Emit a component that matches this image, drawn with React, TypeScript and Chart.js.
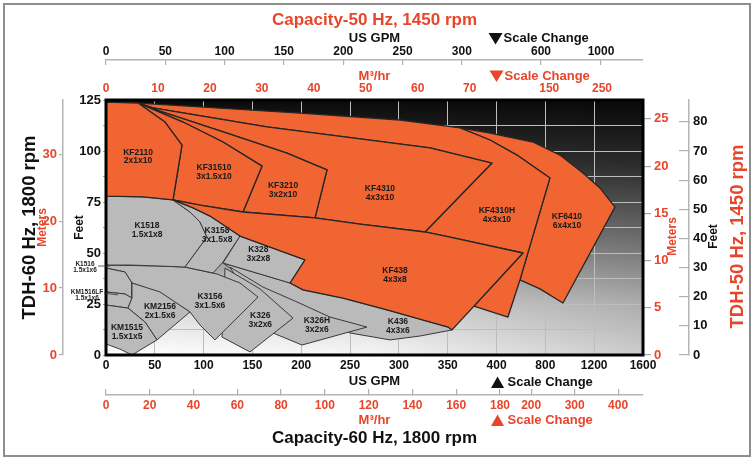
import React, { useEffect, useRef } from 'react';
import { Chart, registerables, LinearScale } from 'chart.js';

// ---------------- tick labels ----------------
const GPM_60HZ = [0, 50, 100, 150, 200, 250, 300, 350, 400, 800, 1200, 1600];
const GPM_50HZ = [0, 50, 100, 150, 200, 250, 300, 600, 1000];
const M3H_50HZ = [0, 10, 20, 30, 40, 50, 60, 70, 150, 250];
const M3H_60HZ = [0, 20, 40, 60, 80, 100, 120, 140, 160, 180, 200, 300, 400];
const FEET_60HZ = [0, 25, 50, 75, 100, 125];
const FEET_60HZ_GRID = [0, 12.5, 25, 37.5, 50, 62.5, 75, 87.5, 100, 112.5, 125];
const METERS_60HZ = [0, 10, 20, 30];
const METERS_50HZ = [0, 5, 10, 15, 20, 25];
const FEET_50HZ = [0, 10, 20, 30, 40, 50, 60, 70, 80];

// ---------------- coverage areas: [US GPM @60Hz, feet TDH @60Hz] ----------------
const K436 = [[119.8, 45.1], [188.5, 35.3], [201.8, 31.9], [242.7, 27.9], [287.8, 22.1], [350.3, 13.7], [354.4, 12.3], [321.6, 9.3], [290.9, 7.4], [249.9, 10.8], [198.7, 22.1], [137.2, 39.2]];
const K326H = [[127.0, 43.1], [160.8, 33.3], [195.6, 26.0], [229.4, 18.6], [267.3, 13.7], [200.7, 4.9], [171.0, 10.8], [147.5, 27.0]];
const K326 = [[121.9, 42.6], [157.7, 32.4], [191.5, 18.1], [147.5, 1.5], [118.8, 8.8]];
const K328 = [[137.2, 58.3], [168.0, 52.9], [203.8, 46.6], [188.5, 35.3], [119.8, 45.1]];
const K3156 = [[0, 44.1], [55.3, 43.6], [80.9, 43.1], [113.7, 39.7], [137.2, 35.3], [155.7, 28.4], [111.6, 7.4], [96.3, 14.7], [86.0, 21.1], [55.3, 30.4], [26.6, 35.3], [19.5, 40.7], [0, 42.6]];
const K1518 = [[0, 77.9], [37.9, 77.5], [68.6, 76.0], [86.0, 70.1], [96.3, 65.2], [103.4, 57.8], [80.9, 43.1], [55.3, 43.6], [24.6, 44.1], [0, 44.1]];
const K3158 = [[68.6, 76.0], [89.1, 72.1], [106.5, 68.1], [121.9, 63.2], [137.2, 58.3], [119.8, 45.6], [109.6, 40.2], [80.9, 43.1], [103.4, 57.8], [96.3, 65.2], [86.0, 70.1]];
const K1516 = [[0, 42.6], [19.5, 40.7], [26.6, 35.3], [26.6, 27.9], [19.5, 29.9], [0, 30.9]];
const KM1516LF = [[0, 30.9], [19.5, 29.9], [26.6, 27.9], [22.5, 23.0], [0, 24.5]];
const KM2156 = [[26.6, 35.3], [55.3, 30.9], [86.0, 21.1], [52.2, 7.4], [39.9, 16.2], [22.5, 23.0], [26.6, 27.9]];
const KM1515 = [[0, 24.5], [22.5, 23.0], [39.9, 16.2], [52.2, 7.4], [26.6, 0], [14.3, 2.9], [0, 5.4]];

const KF6410 = [[362.6, 111.3], [393.3, 108.8], [698.2, 104.4], [919.4, 98.0], [1107.9, 89.2], [1247.2, 81.9], [1370.0, 72.5], [944.0, 25.5], [755.6, 32.4], [591.7, 36.8], [837.5, 86.8], [567.1, 98.0], [393.3, 105.4]];
const KF4310H = [[32.8, 123.5], [96.3, 121.6], [198.7, 118.6], [301.1, 115.2], [362.6, 111.3], [393.3, 105.4], [567.1, 98.0], [837.5, 86.8], [591.7, 36.8], [493.4, 18.6], [376.9, 24.0], [616.3, 50.0], [352.3, 57.8], [326.7, 60.3], [395.3, 94.1], [331.8, 101.5], [164.9, 111.8], [48.1, 121.1]];
const KF4310 = [[32.8, 123.5], [48.1, 121.1], [164.9, 111.8], [331.8, 101.5], [395.3, 94.1], [326.7, 60.3], [260.1, 64.2], [214.1, 67.2], [226.3, 90.7], [185.4, 99.0], [130.1, 107.8], [55.3, 119.6]];
const KF3210 = [[32.8, 123.5], [55.3, 119.6], [130.1, 107.8], [185.4, 99.0], [226.3, 90.7], [214.1, 67.2], [140.3, 70.1], [159.8, 92.6], [119.8, 104.4], [78.9, 114.2], [42.0, 121.6]];
const KF31510 = [[32.8, 123.5], [42.0, 121.6], [78.9, 114.2], [119.8, 104.4], [159.8, 92.6], [140.3, 70.1], [96.3, 73.5], [68.6, 76.0], [77.8, 102.9], [60.4, 114.2]];
const KF2110 = [[0, 124.0], [32.8, 123.5], [60.4, 114.2], [77.8, 102.9], [68.6, 76.0], [37.9, 77.5], [0, 77.9]];
const KF438 = [[68.6, 76.0], [96.3, 73.5], [140.3, 70.1], [214.1, 67.2], [260.1, 64.2], [326.7, 60.3], [352.3, 57.8], [616.3, 50.0], [354.4, 12.3], [350.3, 13.7], [287.8, 22.1], [242.7, 27.9], [201.8, 31.9], [188.5, 35.3], [203.8, 46.6], [168.0, 52.9], [137.2, 58.3], [121.9, 63.2], [106.5, 68.1], [89.1, 72.1]];

// model, size, family, area, label anchor [gpm, ft]  (listed back to front)
const PUMPS: [string, string, string, number[][], number[] | null][] = [
  ['K436', '4x3x6', 'K', K436, [299, 14.2]],
  ['K326H', '3x2x6', 'K', K326H, [216, 14.7]],
  ['K326', '3x2x6', 'K', K326, [158, 17.2]],
  ['K328', '3x2x8', 'K', K328, [156, 49.5]],
  ['K3156', '3x1.5x6', 'K', K3156, [106.5, 26.5]],
  ['K1518', '1.5x1x8', 'K', K1518, [42, 61.3]],
  ['K3158', '3x1.5x8', 'K', K3158, [113.7, 58.8]],
  ['K1516', '1.5x1x6', 'K', K1516, null],
  ['KM1516LF', '1.5x1x6', 'K', KM1516LF, null],
  ['KM2156', '2x1.5x6', 'K', KM2156, [55.3, 21.6]],
  ['KM1515', '1.5x1x5', 'K', KM1515, [21.5, 11.3]],
  ['KF6410', '6x4x10', 'KF', KF6410, [977, 65.7]],
  ['KF4310H', '4x3x10', 'KF', KF4310H, [403, 68.6]],
  ['KF4310', '4x3x10', 'KF', KF4310, [280.6, 79.4]],
  ['KF3210', '3x2x10', 'KF', KF3210, [181.3, 80.9]],
  ['KF31510', '3x1.5x10', 'KF', KF31510, [110.6, 89.7]],
  ['KF2110', '2x1x10', 'KF', KF2110, [32.8, 97.3]],
  ['KF438', '4x3x8', 'KF', KF438, [296, 39.2]],
];
// small areas labelled outside the plot: model, size, label ft, leader ft
const SIDE_LABELS: [string, string, number, number][] = [
  ['K1516', '1.5x1x6', 44.6, 43.6],
  ['KM1516LF', '1.5x1x6', 30.9, 30.4],
];

// ---------------- scale-change axes (value breakpoints vs. 11 equal divisions) ----------------
const DIVS = 11;
const AXIS_BREAKS: Record<string, { values: number[]; divs: number[]; ticks: number[] }> = {
  x: { values: [0, 400, 1600], divs: [0, 8, 11], ticks: GPM_60HZ },
  xTopGpm: { values: [0, 300, 600, 1000], divs: [0, 7.29, 8.91, 10.14], ticks: GPM_50HZ },
  xTopM3: { values: [0, 70, 150, 250], divs: [0, 7.45, 9.08, 10.16], ticks: M3H_50HZ },
  xBotM3: { values: [0, 180, 200, 400], divs: [0, 8.07, 8.71, 10.49], ticks: M3H_60HZ },
};

class BreakScale extends LinearScale {
  static id = 'break';
  static defaults = {};
  _b() { return AXIS_BREAKS[(this as any).id]; }
  _toDiv(v: number) {
    const { values: vs, divs: ds } = this._b();
    let i = 1;
    while (i < vs.length - 1 && v > vs[i]) i++;
    return ds[i - 1] + ((v - vs[i - 1]) * (ds[i] - ds[i - 1])) / (vs[i] - vs[i - 1]);
  }
  _fromDiv(d: number) {
    const { values: vs, divs: ds } = this._b();
    let i = 1;
    while (i < ds.length - 1 && d > ds[i]) i++;
    return vs[i - 1] + ((d - ds[i - 1]) * (vs[i] - vs[i - 1])) / (ds[i] - ds[i - 1]);
  }
  getPixelForValue(value: number) {
    if (value === null || value === undefined) return NaN;
    return (this as any).getPixelForDecimal(this._toDiv(value) / DIVS);
  }
  getValueForPixel(pixel: number) {
    return this._fromDiv((this as any).getDecimalForPixel(pixel) * DIVS);
  }
  buildTicks() {
    return this._b().ticks.map((v) => ({ value: v }));
  }
}

Chart.register(...registerables, BreakScale as any);

const RED = '#e8462a';
const BLACK = '#111111';
const ORANGE = '#f16532';
const GRAY = '#bababa';
const FONT = "'Liberation Sans', Arial, Helvetica, sans-serif";
const AXIS_LINE = '#b5b5b5';

const setTicks = (arr: number[]) => (s: any) => {
  s.ticks = arr.map((v) => ({ value: v }));
};
const str = (v: any) => String(v);

const decor = {
  id: 'decor',
  beforeDraw(chart: any) {
    const { ctx, chartArea: a, width, height } = chart;
    ctx.save();
    ctx.fillStyle = '#ffffff';
    ctx.fillRect(0, 0, width, height);
    ctx.strokeStyle = '#8e8e8e';
    ctx.lineWidth = 2;
    ctx.strokeRect(4, 4, width - 8, height - 8);
    const g = ctx.createLinearGradient(0, a.top, 0, a.bottom);
    g.addColorStop(0, '#0a0a0a');
    g.addColorStop(0.25, '#363636');
    g.addColorStop(0.55, '#8a8a8a');
    g.addColorStop(0.8, '#d8d8d8');
    g.addColorStop(1, '#ffffff');
    ctx.fillStyle = g;
    ctx.fillRect(a.left, a.top, a.width, a.height);
    const h = ctx.createLinearGradient(a.left, 0, a.right, 0);
    h.addColorStop(0, 'rgba(0,0,0,0)');
    h.addColorStop(0.5, 'rgba(0,0,0,0.04)');
    h.addColorStop(1, 'rgba(0,0,0,0.2)');
    ctx.fillStyle = h;
    ctx.fillRect(a.left, a.top, a.width, a.height);
    ctx.restore();
  },
  afterDatasetsDraw(chart: any) {
    const { ctx, chartArea: a, scales } = chart;
    ctx.save();
    ctx.fillStyle = '#1a1a1a';
    ctx.textAlign = 'center';
    ctx.textBaseline = 'middle';
    ctx.font = `bold 8.5px ${FONT}`;
    for (const [name, size, , , at] of PUMPS) {
      if (!at) continue;
      const x = scales.x.getPixelForValue(at[0]);
      const y = scales.y.getPixelForValue(at[1]);
      ctx.fillText(name, x, y - 4.3);
      ctx.fillText(size, x, y + 4.3);
    }
    ctx.strokeStyle = '#000';
    ctx.lineWidth = 3;
    ctx.strokeRect(a.left, a.top, a.width, a.height);
    ctx.restore();
  },
  afterDraw(chart: any) {
    const { ctx, chartArea: a, scales } = chart;
    ctx.save();
    // side labels with leaders
    ctx.textAlign = 'center';
    ctx.textBaseline = 'middle';
    ctx.font = `bold 6.5px ${FONT}`;
    ctx.fillStyle = '#222';
    ctx.strokeStyle = '#333';
    ctx.lineWidth = 0.8;
    SIDE_LABELS.forEach(([name, size, ft, lead], i) => {
      const y = scales.y.getPixelForValue(ft);
      const cx = a.left - 21 + i * 2;
      ctx.fillText(name, cx, y);
      ctx.fillText(size, cx, y + 6.5);
      const ly = scales.y.getPixelForValue(lead);
      ctx.beginPath();
      ctx.moveTo(a.left - 8 + i * 6, ly);
      ctx.lineTo(a.left + 4 + i * 8, ly + i * 2);
      ctx.stroke();
    });
    // vertical titles on the right (read bottom-to-top)
    const vText = (t: string, x: number, y: number, font: string, color: string) => {
      ctx.save();
      ctx.translate(x, y);
      ctx.rotate(-Math.PI / 2);
      ctx.textAlign = 'center';
      ctx.textBaseline = 'middle';
      ctx.font = font;
      ctx.fillStyle = color;
      ctx.fillText(t, 0, 0);
      ctx.restore();
    };
    const cy = (a.top + a.bottom) / 2 + 9;
    vText('Meters', scales.yRightM.right - 16, cy, `bold 12px ${FONT}`, RED);
    vText('Feet', scales.yRightFt.left + 25, cy, `bold 12px ${FONT}`, BLACK);
    vText('TDH-50 Hz, 1450 rpm', scales.yRightFt.right + 16, cy, `bold 18.5px ${FONT}`, RED);
    // scale change markers
    const xs = scales.x.getPixelForValue(400);
    const change = (cx: number, y: number, up: boolean, color: string) => {
      ctx.fillStyle = color;
      ctx.beginPath();
      if (up) {
        ctx.moveTo(cx - 6.5, y + 6);
        ctx.lineTo(cx + 6.5, y + 6);
        ctx.lineTo(cx, y - 5.5);
      } else {
        ctx.moveTo(cx - 7, y - 5.5);
        ctx.lineTo(cx + 7, y - 5.5);
        ctx.lineTo(cx, y + 6);
      }
      ctx.closePath();
      ctx.fill();
      ctx.font = `bold 13px ${FONT}`;
      ctx.textAlign = 'left';
      ctx.textBaseline = 'middle';
      ctx.fillText('Scale Change', cx + (up ? 10 : 8), y + 0.5);
    };
    change(xs - 1, scales.xTopGpm.top + 8, false, BLACK);
    change(xs, scales.xTopM3.top + 16, false, RED);
    change(xs + 1, scales.x.bottom - 13, true, BLACK);
    change(xs + 1, scales.xBotM3.bottom - 8, true, RED);
    ctx.restore();
  },
};

export default function App() {
  const ref = useRef<HTMLCanvasElement>(null);
  useEffect(() => {
    Chart.defaults.font.family = FONT;
    const datasets = PUMPS.map(([name, , fam, area], i) => ({
      label: name,
      data: [...area, area[0]].map(([x, y]) => ({ x, y })),
      backgroundColor: fam === 'KF' ? ORANGE : GRAY,
      borderColor: fam === 'KF' ? '#262626' : '#3a3a3a',
      borderWidth: fam === 'KF' ? 1.3 : 1,
      borderJoinStyle: 'round',
      fill: 'shape',
      pointRadius: 0,
      pointHoverRadius: 0,
      tension: 0,
      order: PUMPS.length - i,
      xAxisID: 'x',
      yAxisID: 'y',
    }));
    const bold = (size: number) => ({ size, weight: 'bold' as const });
    const chart = new Chart(ref.current as HTMLCanvasElement, {
      type: 'line',
      data: { datasets } as any,
      plugins: [decor],
      options: {
        animation: false,
        responsive: false,
        events: [],
        layout: { padding: { left: 6, right: 32, top: 6, bottom: 11.6 } },
        plugins: {
          legend: { display: false },
          tooltip: { enabled: false },
          title: {
            display: true,
            text: 'Capacity-50 Hz, 1450 rpm',
            color: RED,
            font: bold(17),
            padding: { top: 4, bottom: 0 },
            fullSize: false,
          },
          subtitle: {
            display: true,
            position: 'bottom',
            text: 'Capacity-60 Hz, 1800 rpm',
            color: BLACK,
            font: bold(17),
            padding: { top: 0, bottom: 0 },
            fullSize: false,
          },
        },
        scales: {
          x: {
            type: 'break',
            position: 'bottom',
            weight: 0,
            min: 0,
            max: 1600,
            grid: { color: '#bdbdbd', lineWidth: 1, drawTicks: false },
            border: { display: false },
            ticks: { autoSkip: false, maxRotation: 0, color: BLACK, font: bold(12), padding: 3.8, callback: str },
            title: { display: true, text: 'US GPM', color: BLACK, font: bold(13), padding: { top: 0, bottom: 5.7 } },
            afterFit: (s: any) => { s.height = 40; },
          },
          xBotM3: {
            type: 'break',
            position: 'bottom',
            weight: 1,
            min: 0,
            max: 400,
            grid: { drawOnChartArea: false, tickLength: -6, tickColor: '#b0b0b0', lineWidth: 1.2 },
            border: { display: true, color: AXIS_LINE, width: 1.5 },
            ticks: { autoSkip: false, maxRotation: 0, color: RED, font: bold(12), padding: 9.8, callback: str },
            title: { display: true, text: 'M³/hr', color: RED, font: bold(13), padding: { top: 0, bottom: 0.2 } },
            afterFit: (s: any) => { s.height = 33; },
          },
          xTopGpm: {
            type: 'break',
            position: 'top',
            weight: 1,
            min: 0,
            max: 1000,
            grid: { drawOnChartArea: false, tickLength: -5, tickColor: '#b0b0b0', lineWidth: 1.2 },
            border: { display: true, color: AXIS_LINE, width: 1.5 },
            ticks: { autoSkip: false, maxRotation: 0, color: BLACK, font: bold(12), padding: 5.8, callback: str },
            title: { display: true, text: 'US GPM', color: BLACK, font: bold(13), padding: { top: 0, bottom: 0 } },
            afterFit: (s: any) => { s.height = 29.6; },
          },
          xTopM3: {
            type: 'break',
            position: 'top',
            weight: 0,
            min: 0,
            max: 250,
            grid: { display: false, drawTicks: false },
            border: { display: false },
            ticks: { autoSkip: false, maxRotation: 0, color: RED, font: bold(12), padding: 3.8, callback: str },
            title: { display: true, text: 'M³/hr', color: RED, font: bold(13), padding: { top: 8.2, bottom: 0 } },
            afterFit: (s: any) => { s.height = 40; },
          },
          y: {
            type: 'linear',
            position: 'left',
            weight: 0,
            min: 0,
            max: 125,
            afterBuildTicks: setTicks(FEET_60HZ_GRID),
            grid: { color: '#bdbdbd', lineWidth: 1, tickLength: 3, tickColor: '#a0a0a0' },
            border: { display: false },
            ticks: {
              color: BLACK,
              font: bold(13),
              padding: 2,
              callback: (v: any) => (FEET_60HZ.includes(Number(v)) ? String(v) : ''),
            },
            title: { display: true, text: 'Feet', color: BLACK, font: bold(12), padding: { top: 9.8, bottom: 0 } },
            afterFit: (s: any) => { s.width = 43; },
          },
          yLeftM: {
            type: 'linear',
            position: 'left',
            weight: 1,
            min: 0,
            max: 38.1,
            afterBuildTicks: setTicks(METERS_60HZ),
            grid: { drawOnChartArea: false, tickLength: 4, tickColor: '#b0b0b0', lineWidth: 1.2 },
            border: { display: true, color: AXIS_LINE, width: 1.5 },
            ticks: { color: RED, font: bold(13), padding: 2, callback: str },
            title: { display: true, text: 'Meters', color: RED, font: bold(12), padding: { top: 2.8, bottom: 0 } },
            afterFit: (s: any) => { s.width = 30; },
          },
          yLeftTitle: {
            type: 'linear',
            position: 'left',
            weight: 2,
            min: 0,
            max: 1,
            grid: { display: false, drawTicks: false },
            border: { display: false },
            ticks: { display: false },
            title: { display: true, text: 'TDH-60 Hz, 1800 rpm', color: BLACK, font: bold(18.5), padding: { top: 12.9, bottom: 0 } },
            afterFit: (s: any) => { s.width = 27; },
          },
          yRightM: {
            type: 'linear',
            position: 'right',
            weight: 0,
            min: 0,
            max: 27,
            afterBuildTicks: setTicks(METERS_50HZ),
            grid: { drawOnChartArea: false, tickLength: 8, tickColor: '#a8a8a8', lineWidth: 1.2 },
            border: { display: false },
            ticks: { color: RED, font: bold(13), padding: 3, callback: str },
            afterFit: (s: any) => { s.width = 46; },
          },
          yRightFt: {
            type: 'linear',
            position: 'right',
            weight: 1,
            min: 0,
            max: 87.5,
            afterBuildTicks: setTicks(FEET_50HZ),
            grid: { drawOnChartArea: false, tickLength: -10, tickColor: '#b0b0b0', lineWidth: 1.2 },
            border: { display: true, color: AXIS_LINE, width: 1.5 },
            ticks: { color: BLACK, font: bold(13), padding: 14, callback: str },
            afterFit: (s: any) => { s.width = 33; },
          },
        },
      } as any,
    });
    return () => chart.destroy();
  }, []);
  return (
    <div style={{ position: 'fixed', left: 0, top: 0, width: 754, height: 460, background: '#fff' }}>
      <canvas ref={ref} width={754} height={460} style={{ display: 'block', width: 754, height: 460 }} />
    </div>
  );
}
